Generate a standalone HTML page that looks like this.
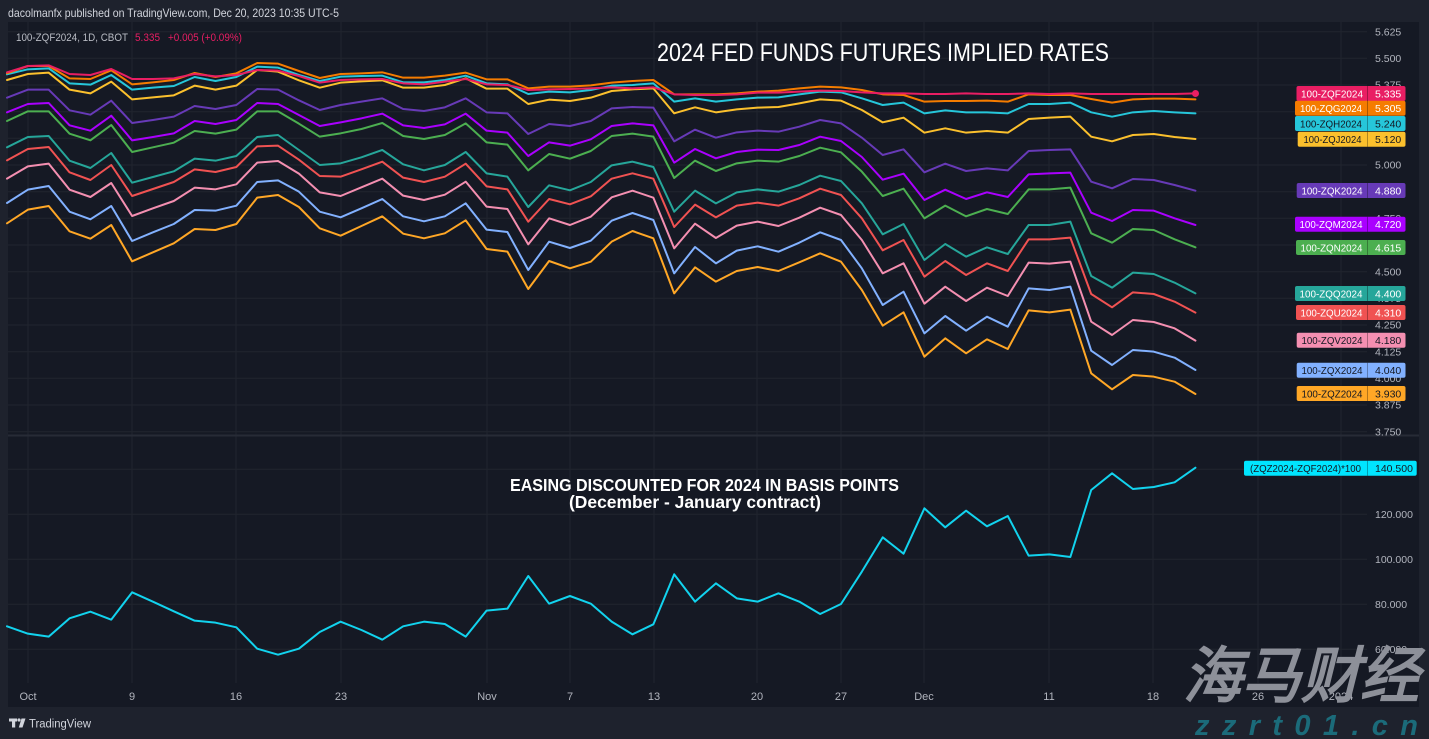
<!DOCTYPE html>
<html><head><meta charset="utf-8"><style>
html,body{margin:0;padding:0;background:#1e222d;}
svg{display:block}
text{font-family:"Liberation Sans",sans-serif;}
</style></head><body>
<svg width="1429" height="739" viewBox="0 0 1429 739" xmlns="http://www.w3.org/2000/svg">
<rect x="0" y="0" width="1429" height="739" fill="#1e222d"/>
<rect x="8" y="22" width="1411" height="685" fill="#151924"/>

<!-- header -->
<text x="8" y="17" font-size="12" fill="#d1d4dc" textLength="331" lengthAdjust="spacingAndGlyphs">dacolmanfx published on TradingView.com, Dec 20, 2023 10:35 UTC-5</text>

<!-- grid -->
<g stroke="#21252f" stroke-width="1">
<line x1="28" y1="22" x2="28" y2="683"/><line x1="132" y1="22" x2="132" y2="683"/><line x1="236" y1="22" x2="236" y2="683"/><line x1="341" y1="22" x2="341" y2="683"/><line x1="487" y1="22" x2="487" y2="683"/><line x1="570" y1="22" x2="570" y2="683"/><line x1="654" y1="22" x2="654" y2="683"/><line x1="757" y1="22" x2="757" y2="683"/><line x1="841" y1="22" x2="841" y2="683"/><line x1="924" y1="22" x2="924" y2="683"/><line x1="1049" y1="22" x2="1049" y2="683"/><line x1="1153" y1="22" x2="1153" y2="683"/><line x1="1258" y1="22" x2="1258" y2="683"/><line x1="1341" y1="22" x2="1341" y2="683"/>
<line x1="8" y1="31.7" x2="1367" y2="31.7"/><line x1="8" y1="58.3" x2="1367" y2="58.3"/><line x1="8" y1="85" x2="1367" y2="85"/><line x1="8" y1="111.7" x2="1367" y2="111.7"/><line x1="8" y1="138.3" x2="1367" y2="138.3"/><line x1="8" y1="165" x2="1367" y2="165"/><line x1="8" y1="191.7" x2="1367" y2="191.7"/><line x1="8" y1="218.3" x2="1367" y2="218.3"/><line x1="8" y1="245" x2="1367" y2="245"/><line x1="8" y1="271.7" x2="1367" y2="271.7"/><line x1="8" y1="298.3" x2="1367" y2="298.3"/><line x1="8" y1="325" x2="1367" y2="325"/><line x1="8" y1="351.7" x2="1367" y2="351.7"/><line x1="8" y1="378.3" x2="1367" y2="378.3"/><line x1="8" y1="405" x2="1367" y2="405"/><line x1="8" y1="431.7" x2="1367" y2="431.7"/>
<line x1="8" y1="469.3" x2="1367" y2="469.3"/><line x1="8" y1="514.3" x2="1367" y2="514.3"/><line x1="8" y1="559.3" x2="1367" y2="559.3"/><line x1="8" y1="604.3" x2="1367" y2="604.3"/><line x1="8" y1="649.3" x2="1367" y2="649.3"/>
</g>
<rect x="8" y="434.5" width="1411" height="2" fill="#272b36"/>

<!-- price axis labels -->
<g font-size="10.5" fill="#b2b5be">
<text x="1375" y="35.5">5.625</text><text x="1375" y="62">5.500</text><text x="1375" y="88.7">5.375</text><text x="1375" y="115.4">5.250</text><text x="1375" y="142">5.125</text><text x="1375" y="168.7">5.000</text><text x="1375" y="195.4">4.875</text><text x="1375" y="222">4.750</text><text x="1375" y="248.7">4.625</text><text x="1375" y="275.4">4.500</text><text x="1375" y="302">4.375</text><text x="1375" y="328.7">4.250</text><text x="1375" y="355.4">4.125</text><text x="1375" y="382">4.000</text><text x="1375" y="408.7">3.875</text><text x="1375" y="435.4">3.750</text>
<text x="1375" y="473">140.000</text><text x="1375" y="518">120.000</text><text x="1375" y="563">100.000</text><text x="1375" y="608">80.000</text><text x="1375" y="653">60.000</text>
</g>

<!-- time axis labels -->
<g font-size="11" fill="#b2b5be" text-anchor="middle">
<text x="28" y="700">Oct</text><text x="132" y="700">9</text><text x="236" y="700">16</text><text x="341" y="700">23</text><text x="487" y="700">Nov</text><text x="570" y="700">7</text><text x="654" y="700">13</text><text x="757" y="700">20</text><text x="841" y="700">27</text><text x="924" y="700">Dec</text><text x="1049" y="700">11</text><text x="1153" y="700">18</text><text x="1258" y="700">26</text><text x="1341" y="700">2024</text>
</g>

<!-- legend -->
<text x="16" y="41" font-size="11" fill="#b8bbc3" textLength="112" lengthAdjust="spacingAndGlyphs">100-ZQF2024, 1D, CBOT</text>
<text x="135" y="41" font-size="11" fill="#e91e63" textLength="25" lengthAdjust="spacingAndGlyphs">5.335</text>
<text x="168" y="41" font-size="11" fill="#e91e63" textLength="74" lengthAdjust="spacingAndGlyphs">+0.005 (+0.09%)</text>

<!-- titles -->
<text x="657" y="61" font-size="25" fill="#ffffff" textLength="452" lengthAdjust="spacingAndGlyphs">2024 FED FUNDS FUTURES IMPLIED RATES</text>
<text x="510" y="491" font-size="17.5" font-weight="bold" fill="#ffffff" textLength="389" lengthAdjust="spacingAndGlyphs">EASING DISCOUNTED FOR 2024 IN BASIS POINTS</text>
<text x="569" y="508" font-size="17.5" font-weight="bold" fill="#ffffff" textLength="252" lengthAdjust="spacingAndGlyphs">(December - January contract)</text>

<!-- series -->
<g transform="translate(7,55) scale(20.85,0.333333)" fill="none" stroke-width="2" stroke-linejoin="round" stroke-linecap="round">
<polyline vector-effect="non-scaling-stroke" stroke="#ffa726" points="0,505 1,464 2,453 3,529 4,551 5,510 6,619 7,592 8,565 9,522 10,525 11,507 12,428 13,420 14,456 15,520 16,542 17,513 18,484 19,536 20,550 21,535 22,496 23,582 24,590 25,702 26,618 27,640 28,620 29,560 30,528 31,550 32,715 33,637 34,680 35,648 36,636 37,648 38,622 39,595 40,620 41,705 42,812 43,772 44,905 45,850 46,895 47,853 48,882 49,766 50,772 51,764 52,955 53,1003 54,960 55,965 56,980 57,1017"/>
<polyline vector-effect="non-scaling-stroke" stroke="#82b1ff" points="0,444 1,404 2,393 3,470 4,493 5,453 6,558 7,532 8,507 9,465 10,467 11,452 12,381 13,376 14,410 15,470 16,487 17,460 18,432 19,484 20,499 21,484 22,445 23,524 24,531 25,645 26,560 27,579 28,557 29,497 30,474 31,495 32,655 33,576 34,625 35,587 36,574 37,590 38,563 39,532 40,555 41,640 42,750 43,710 44,835 45,783 46,827 47,785 48,815 49,700 50,705 51,695 52,887 53,930 54,885 55,890 56,908 57,945"/>
<polyline vector-effect="non-scaling-stroke" stroke="#f48fb1" points="0,371 1,334 2,326 3,404 4,426 5,384 6,483 7,460 8,438 9,398 10,403 11,388 12,323 13,318 14,356 15,412 16,423 17,397 18,371 19,422 20,435 21,419 22,380 23,455 24,462 25,568 26,490 27,510 28,485 29,427 30,407 31,428 32,580 33,506 34,549 35,512 36,500 37,513 38,488 39,458 40,480 41,555 42,655 43,625 44,746 45,695 46,738 47,698 48,723 49,623 50,626 51,620 52,800 53,840 54,795 55,801 56,820 57,857"/>
<polyline vector-effect="non-scaling-stroke" stroke="#f05252" points="0,316 1,282 2,276 3,352 4,375 5,330 6,423 7,402 8,381 9,343 10,351 11,336 12,274 13,272 14,314 15,363 16,365 17,343 18,320 19,368 20,381 21,365 22,326 23,394 24,403 25,500 26,432 27,448 28,424 29,371 30,355 31,371 32,516 33,449 34,487 35,452 36,443 37,452 38,430 39,401 40,420 41,490 42,586 43,555 44,665 45,618 46,660 47,625 48,648 49,553 50,553 51,548 52,717 53,757 54,712 55,717 56,740 57,773"/>
<polyline vector-effect="non-scaling-stroke" stroke="#26a69a" points="0,277 1,246 2,243 3,317 4,339 5,294 6,383 7,366 8,349 9,311 10,317 11,303 12,246 13,240 14,285 15,330 16,325 17,307 18,285 19,328 20,346 21,330 22,291 23,355 24,365 25,456 26,391 27,406 28,381 29,331 30,320 31,336 32,470 33,407 34,445 35,412 36,403 37,410 38,390 39,362 40,378 41,445 42,538 43,507 44,615 45,567 46,605 47,577 48,597 49,510 50,510 51,500 52,663 53,698 54,653 55,657 56,683 57,715"/>
<polyline vector-effect="non-scaling-stroke" stroke="#4caf50" points="0,198 1,169 2,169 3,236 4,256 5,210 6,291 7,277 8,263 9,228 10,236 11,224 12,169 13,169 14,206 15,245 16,235 17,222 18,204 19,243 20,252 21,240 22,205 23,262 24,269 25,346 26,297 27,311 28,288 29,243 30,236 31,245 32,369 33,317 34,348 35,325 36,317 37,320 38,303 39,278 40,292 41,350 42,423 43,401 44,490 45,452 46,484 47,462 48,477 49,403 50,403 51,398 52,535 53,563 54,522 55,525 56,553 57,577"/>
<polyline vector-effect="non-scaling-stroke" stroke="#aa00ff" points="0,172 1,147 2,144 3,211 4,227 5,182 6,256 7,246 8,235 9,198 10,207 11,195 12,144 13,147 14,180 15,213 16,202 17,190 18,176 19,211 20,219 21,208 22,176 23,227 24,233 25,303 26,262 27,272 28,253 29,213 30,205 31,211 32,323 33,282 34,310 35,291 36,284 37,285 38,270 39,245 40,258 41,306 42,374 43,356 44,435 45,404 46,432 47,412 48,426 49,358 50,355 51,353 52,473 53,498 54,465 55,467 56,490 57,510"/>
<polyline vector-effect="non-scaling-stroke" stroke="#673ab7" points="0,128 1,104 2,104 3,166 4,179 5,137 6,204 7,195 8,185 9,153 10,162 11,150 12,102 13,104 14,136 15,165 16,150 17,140 18,130 19,162 20,168 21,157 22,130 23,172 24,175 25,237 26,207 27,213 28,198 29,160 30,156 31,158 32,259 33,224 34,248 35,232 36,227 37,230 38,215 39,195 40,205 41,248 42,300 43,283 44,352 45,326 46,348 47,340 48,346 49,288 50,285 51,283 52,380 53,400 54,372 55,375 56,390 57,407"/>
<polyline vector-effect="non-scaling-stroke" stroke="#fbc02d" points="0,75 1,57 2,53 3,104 4,115 5,80 6,133 7,127 8,121 9,92 10,104 11,92 12,45 13,50 14,76 15,98 16,83 17,79 18,76 19,98 20,98 21,90 22,70 23,101 24,101 25,147 26,134 27,138 28,128 29,108 30,103 31,100 32,175 33,157 34,172 35,163 36,158 37,156 38,145 39,133 40,137 41,165 42,202 43,188 44,233 45,220 46,233 47,228 48,233 49,192 50,188 51,185 52,245 53,259 54,240 55,237 56,246 57,252"/>
<polyline vector-effect="non-scaling-stroke" stroke="#26c6da" points="0,58 1,43 2,40 3,85 4,89 5,60 6,104 7,98 8,93 9,66 10,78 11,66 12,35 13,38 14,60 15,78 16,65 17,63 18,62 19,82 20,82 21,75 22,62 23,85 24,88 25,117 26,110 27,112 28,105 29,92 30,90 31,85 32,140 33,130 34,140 35,133 36,128 37,127 38,118 39,110 40,112 41,130 42,150 43,143 44,175 45,166 46,172 47,172 48,175 49,147 50,147 51,143 52,172 53,185 54,172 55,168 56,172 57,175"/>
<polyline vector-effect="non-scaling-stroke" stroke="#f57c00" points="0,55 1,33 2,33 3,70 4,72 5,46 6,88 7,82 8,75 9,54 10,66 11,55 12,24 13,26 14,48 15,69 16,57 17,55 18,52 19,68 20,68 21,62 22,53 23,73 24,73 25,100 26,95 27,95 28,91 29,83 30,78 31,75 32,118 33,118 34,118 35,115 36,110 37,107 38,100 39,95 40,97 41,105 42,118 43,120 44,140 45,138 46,138 47,137 48,140 49,118 50,120 51,120 52,132 53,143 54,133 55,131 56,131 57,133"/>
<polyline vector-effect="non-scaling-stroke" stroke="#e91e63" points="0,52 1,33 2,31 3,57 4,60 5,42 6,72 7,72 8,70 9,57 10,64 11,60 12,45 13,47 14,63 15,83 16,75 17,73 18,72 19,85 20,88 21,80 22,72 23,88 24,90 25,105 26,103 27,102 28,100 29,97 30,100 31,97 32,118 33,120 34,120 35,118 36,113 37,113 38,110 39,107 40,108 41,112 42,115 43,115 44,117 45,117 46,115 47,117 48,117 49,115 50,117 51,115 52,117 53,117 54,117 55,117 56,117 57,115"/>
</g>
<circle cx="1195.5" cy="93.5" r="3.5" fill="#e91e63"/>

<!-- spread line -->
<g transform="translate(7,455) scale(20.85,0.333333)" fill="none" stroke-width="2" stroke-linejoin="round" stroke-linecap="round">
<polyline vector-effect="non-scaling-stroke" stroke="#12d3ee" points="0,514 1,536 2,545 3,490 4,470 5,494 6,412 7,440 8,469 9,497 10,503 11,517 12,581 13,599 14,581 15,531 16,500 17,525 18,554 19,514 20,500 21,507 22,545 23,467 24,461 25,363 26,446 27,423 28,446 29,500 30,538 31,508 32,358 33,440 34,385 35,430 36,440 37,415 38,440 39,477 40,447 41,350 42,247 43,296 44,160 45,217 46,167 47,214 48,183 49,302 50,298 51,306 52,105 53,55 54,102 55,96 56,82 57,38"/>
</g>

<!-- tags -->
<g font-size="10.5">
<rect x="1296.5" y="86" width="109" height="15" rx="2" fill="#e91e63"/><text x="1332" y="97.3" fill="#fff" text-anchor="middle" textLength="62" lengthAdjust="spacingAndGlyphs">100-ZQF2024</text><text x="1375" y="97.3" fill="#fff">5.335</text>
<rect x="1295" y="100.7" width="110.5" height="15" rx="2" fill="#f57c00"/><text x="1331" y="112" fill="#fff" text-anchor="middle" textLength="62" lengthAdjust="spacingAndGlyphs">100-ZQG2024</text><text x="1375" y="112" fill="#fff">5.305</text>
<rect x="1295" y="116" width="110.5" height="15" rx="2" fill="#26c6da"/><text x="1331" y="127.3" fill="#131722" text-anchor="middle" textLength="62" lengthAdjust="spacingAndGlyphs">100-ZQH2024</text><text x="1375" y="127.3" fill="#131722">5.240</text>
<rect x="1297.7" y="131.7" width="107.8" height="15" rx="2" fill="#fbc02d"/><text x="1332.5" y="143" fill="#131722" text-anchor="middle" textLength="58" lengthAdjust="spacingAndGlyphs">100-ZQJ2024</text><text x="1375" y="143" fill="#131722">5.120</text>
<rect x="1296.7" y="183" width="108.8" height="15" rx="2" fill="#673ab7"/><text x="1332" y="194.3" fill="#fff" text-anchor="middle" textLength="61" lengthAdjust="spacingAndGlyphs">100-ZQK2024</text><text x="1375" y="194.3" fill="#fff">4.880</text>
<rect x="1295" y="216.7" width="110.5" height="15" rx="2" fill="#aa00ff"/><text x="1331" y="228" fill="#fff" text-anchor="middle" textLength="63" lengthAdjust="spacingAndGlyphs">100-ZQM2024</text><text x="1375" y="228" fill="#fff">4.720</text>
<rect x="1296" y="240" width="109.5" height="15" rx="2" fill="#4caf50"/><text x="1331.5" y="251.3" fill="#fff" text-anchor="middle" textLength="62" lengthAdjust="spacingAndGlyphs">100-ZQN2024</text><text x="1375" y="251.3" fill="#fff">4.615</text>
<rect x="1295" y="286" width="110.5" height="15" rx="2" fill="#26a69a"/><text x="1331" y="297.3" fill="#fff" text-anchor="middle" textLength="63" lengthAdjust="spacingAndGlyphs">100-ZQQ2024</text><text x="1375" y="297.3" fill="#fff">4.400</text>
<rect x="1296" y="305" width="109.5" height="15" rx="2" fill="#f05252"/><text x="1331.5" y="316.3" fill="#fff" text-anchor="middle" textLength="62" lengthAdjust="spacingAndGlyphs">100-ZQU2024</text><text x="1375" y="316.3" fill="#fff">4.310</text>
<rect x="1296.7" y="332.7" width="108.8" height="15" rx="2" fill="#f48fb1"/><text x="1332" y="344" fill="#131722" text-anchor="middle" textLength="61" lengthAdjust="spacingAndGlyphs">100-ZQV2024</text><text x="1375" y="344" fill="#131722">4.180</text>
<rect x="1296.7" y="362.7" width="108.8" height="15" rx="2" fill="#82b1ff"/><text x="1332" y="374" fill="#131722" text-anchor="middle" textLength="61" lengthAdjust="spacingAndGlyphs">100-ZQX2024</text><text x="1375" y="374" fill="#131722">4.040</text>
<rect x="1296.7" y="386" width="108.8" height="15" rx="2" fill="#ffa726"/><text x="1332" y="397.3" fill="#131722" text-anchor="middle" textLength="61" lengthAdjust="spacingAndGlyphs">100-ZQZ2024</text><text x="1375" y="397.3" fill="#131722">3.930</text>
<rect x="1244" y="460.7" width="172.7" height="15" rx="2" fill="#00e5ff"/><text x="1305.5" y="472" fill="#131722" text-anchor="middle" textLength="111" lengthAdjust="spacingAndGlyphs">(ZQZ2024-ZQF2024)*100</text><text x="1375" y="472" fill="#131722">140.500</text>
</g>
<g stroke="rgba(0,0,0,0.3)" stroke-width="1">
<line x1="1367.5" y1="86" x2="1367.5" y2="101"/><line x1="1367.5" y1="100.7" x2="1367.5" y2="115.7"/><line x1="1367.5" y1="116" x2="1367.5" y2="131"/><line x1="1367.5" y1="131.7" x2="1367.5" y2="146.7"/><line x1="1367.5" y1="183" x2="1367.5" y2="198"/><line x1="1367.5" y1="216.7" x2="1367.5" y2="231.7"/><line x1="1367.5" y1="240" x2="1367.5" y2="255"/><line x1="1367.5" y1="286" x2="1367.5" y2="301"/><line x1="1367.5" y1="305" x2="1367.5" y2="320"/><line x1="1367.5" y1="332.7" x2="1367.5" y2="347.7"/><line x1="1367.5" y1="362.7" x2="1367.5" y2="377.7"/><line x1="1367.5" y1="386" x2="1367.5" y2="401"/><line x1="1367.5" y1="460.7" x2="1367.5" y2="475.7"/>
</g>

<!-- bottom frame -->
<rect x="0" y="707" width="1429" height="32" fill="#1e222d"/>
<rect x="1419" y="22" width="10" height="685" fill="#1e222d"/>
<!-- TradingView logo -->
<g fill="#d1d4dc">
<rect x="9" y="718.5" width="8" height="3"/><rect x="12" y="718.5" width="3.2" height="9"/>
<circle cx="19" cy="720" r="1.6"/>
<polygon points="21.5,718.5 25.5,718.5 22.5,727.5 18.8,727.5"/>
</g>
<text x="29" y="727.5" font-size="11.5" fill="#d1d4dc" textLength="62" lengthAdjust="spacingAndGlyphs">TradingView</text>

<!-- watermark -->
<text transform="translate(1183,697) skewX(-14)" font-family="'Noto Sans CJK SC','WenQuanYi Zen Hei',sans-serif" font-size="61" font-weight="900" fill="#8d9099" textLength="236" lengthAdjust="spacingAndGlyphs">海马财经</text>
<text x="1195" y="735" font-size="29" font-weight="bold" font-style="italic" fill="#1b6b7a" textLength="223" lengthAdjust="spacing">zzrt01.cn</text>
</svg>
</body></html>
